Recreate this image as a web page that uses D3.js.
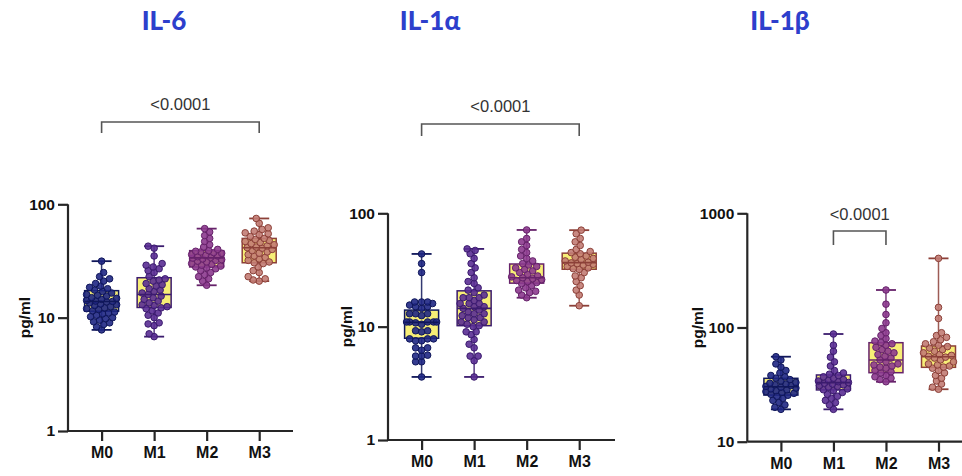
<!DOCTYPE html>
<html><head><meta charset="utf-8">
<script src="https://cdn.jsdelivr.net/npm/d3@7"></script>
<style>body{margin:0;background:#fff}svg{display:block}</style>
</head><body>
<svg id="c" width="962" height="476"></svg>
<script>
const categories = ["M0","M1","M2","M3"];
const titles = ["IL-6","IL-1\u03B1","IL-1\u03B2"];
const pLabel = "<0.0001";
const yTicks1 = [1,10,100];
const yTicks3 = [10,100,1000];

// IL-6 points
const il6_M0 = [31.5,25,23,22,21,20,19,18.5,18,17.5,17,16.5,16,15.8,15.5,15,14.8,14.5,14.2,14,13.9,13.8,13.5,13.2,13,12.8,12.5,12.2,12,11.8,11.5,11.2,11,10.8,10.5,10.2,10,9.8,9.5,9.2,9,8.7,8.3,7.8];
const il6_M1 = [42.7,41,35,30,29,28,27,26,25,23,22,21.5,21,20,19.5,19,18,17.5,17,16.5,16,15.5,15,14.5,14,13.5,13,12.8,12.5,12.2,12,11.5,11,10.5,10,9,8.8,8.5,7.2,6.8];
const il6_M2 = [61,57,53,50,47,44,42,40,39,38.5,38,37.5,37,36,35.5,35,34.5,34,33.5,33,32.5,32,31.5,31,30,29.5,29,28.5,28,27.5,27,26,25,24,23,22,21,19.3];
const il6_M3 = [75,68,62,60,58,56,55,54,52,50,49,48,47,46,45,44,43,42,41.5,41,40,39,38,37,36,35,34,33,32,31,30.5,30,28,26,25,23,22,21.5,21];
// IL-6 box stats
const il6Min = [7.8,6.8,19.3,21];
const il6Q1  = [11.4,12.3,28,30.5];
const il6Med = [13.9,16,33.7,41.4];
const il6Q3  = [17.3,22.5,39,50];
const il6Max = [31.5,42.7,61,75];

// IL-1a points
const il1a_M0 = [43.8,36,30,16.5,16.5,16.5,16,15.5,15,15,14.5,13,13,13,12.5,11,11,11,11,11,10.8,10.5,9.2,9.2,9,7.8,7.8,7.8,7.5,7.5,6.5,6.5,6.2,5.6,5.5,5.5,4.9,4.9,3.6];
const il1a_M1 = [48.5,47,44,40,36,33,30,27,25,24,22,21,20,19,18,18,18,17,16,16,16,15,15,14.5,14,13.5,13,13,12.5,12,12,11.5,11,11,10.5,10.2,10,9,9,8.5,7.7,7,6.5,5.5,5.5,5,3.6];
const il1a_M2 = [71.3,60,56,52,48,45,42,40,38,36,35,34,33,32,31,30,29,28,27.5,27,26.5,26,25.5,25,24.5,24,23,22,21,20.5,20,19,18];
const il1a_M3 = [71,66,60,56,52,48,46,45,44,42,41,40,39,38,37,36.5,36,35.5,35,34,33,32.5,32,30,28,27,25,23,21,19,15.3];
const il1aMin = [3.6,3.6,18,15.3];
const il1aQ1  = [7.9,10.2,24.2,32.1];
const il1aMed = [10.9,14.5,27,36.7];
const il1aQ3  = [14,20.7,35.7,44.5];
const il1aMax = [43.8,48.5,71.3,71];

// IL-1b points
const il1b_M0 = [55.5,52,48,45,42,40,38,37,36,35,34,33,32.5,32,31.5,31,30.5,30,29.5,29,28.5,28,27.5,27,26.5,26,25.5,25,24,23,22,21,20,19.2];
const il1b_M1 = [87.7,70,62,55,50,46,42,40,39,38,37,36,35,34.5,34,33.5,33,32.5,32,31.5,31,30.5,30,29,28.5,28,27,26,25,24,23,22,21,19.2];
const il1b_M2 = [213,160,130,110,98,90,85,80,76,74,72,70,67,64,62,60,58,56,54,52,50,48,47,46,45,44,42,41,40,38,37,36,35,33.5];
const il1b_M3 = [403,150,120,90,85,82,78,75,72,70,68,66,64,62,60,58,57,56,55,54,52,50,48,47,46,45,44,42,40,38,36,34,32,30,28.8];
const il1bMin = [19.2,19.2,33.5,28.8];
const il1bQ1  = [25.6,28.4,40.2,44.8];
const il1bMed = [30.3,32.9,52,55.5];
const il1bQ3  = [35.9,38.4,73.6,68.9];
const il1bMax = [55.5,87.7,213,403];

const pointFill   = ["#1f2784","#5a2e94","#8c3a8e","#c27c74"];
const pointStroke = ["#10175a","#3b1b6e","#66226a","#8c4038"];

const panels = [
  {title:titles[0], tx:164, x0:68, yTop:204.3, yBot:431, dom:[1,100], ticks:yTicks1, labX:25,
   pts:[il6_M0,il6_M1,il6_M2,il6_M3], mn:il6Min,q1:il6Q1,md:il6Med,q3:il6Q3,mx:il6Max,
   sig:{a:"M0",b:"M3",y:122,drop:11,ty:110}, axEnd:293},
  {title:titles[1], tx:430, x0:388, yTop:213.3, yBot:440, dom:[1,100], ticks:yTicks1, labX:347,
   pts:[il1a_M0,il1a_M1,il1a_M2,il1a_M3], mn:il1aMin,q1:il1aQ1,md:il1aMed,q3:il1aQ3,mx:il1aMax,
   sig:{a:"M0",b:"M3",y:124,drop:12,ty:112}, axEnd:615},
  {title:titles[2], tx:780, x0:747.3, yTop:213.3, yBot:441.7, dom:[10,1000], ticks:yTicks3, labX:698,
   pts:[il1b_M0,il1b_M1,il1b_M2,il1b_M3], mn:il1bMin,q1:il1bQ1,md:il1bMed,q3:il1bQ3,mx:il1bMax,
   sig:{a:"M1",b:"M2",y:231,drop:14,ty:220}, axEnd:975}
];

const svg = d3.select("#c");
const axisCol = "#262626";
const R = 3.3;
const MAXOFF = 15;
const MIND = 5.6;

function swarm(vals, y){
  const sorted = vals.slice().sort((a,b)=>a-b);
  const placed = [];
  const cands = [];
  for(let k=0;k<=2*MAXOFF;k++){ cands.push((k%2===0?1:-1)*Math.ceil(k/2)); }
  sorted.forEach(v=>{
    const yy = y(v);
    let best = 0, bestPen = Infinity;
    for(const cand of cands){
      let pen = 0;
      placed.forEach(p=>{const dx=p.dx-cand, dy=p.y-yy; const d=Math.sqrt(dx*dx+dy*dy); if(d<MIND) pen += (MIND-d);});
      if(pen===0){best=cand;bestPen=0;break;}
      if(pen<bestPen-1e-9){bestPen=pen;best=cand;}
    }
    placed.push({v, y:yy, dx:best});
  });
  return placed;
}

panels.forEach(P=>{
  const g = svg.append("g");
  const x = d3.scalePoint().domain(categories).range([P.x0+33.6, P.x0+191.2]);
  const y = d3.scaleLog().domain(P.dom).range([P.yBot, P.yTop]);
  const bw = 34;

  g.append("text").attr("x",P.tx).attr("y",30).attr("text-anchor","middle")
    .attr("font-family","Lato, 'Open Sans', sans-serif").attr("font-weight","900")
    .attr("font-size",26).attr("fill","#2d3fcc").text(P.title);

  const xa = x(P.sig.a), xb = x(P.sig.b);
  g.append("path").attr("d",`M${xa},${P.sig.y+P.sig.drop}V${P.sig.y}H${xb}V${P.sig.y+P.sig.drop}`)
    .attr("fill","none").attr("stroke","#555").attr("stroke-width",1.6);
  g.append("text").attr("x",(xa+xb)/2).attr("y",P.sig.ty).attr("text-anchor","middle")
    .attr("font-family","Liberation Sans, Arial, sans-serif").attr("font-size",16.5)
    .attr("fill","#333").text(pLabel);

  const yAxis = d3.axisLeft(y).tickValues(P.ticks).tickFormat(d3.format("d")).tickSize(10).tickPadding(3);
  const ya = g.append("g").attr("transform",`translate(${P.x0},0)`).call(yAxis);
  ya.select(".domain").attr("d",`M0,${P.yTop}V${P.yBot}`).attr("stroke",axisCol).attr("stroke-width",2.2);
  ya.selectAll(".tick line").attr("stroke",axisCol).attr("stroke-width",2.2);
  ya.selectAll(".tick text").attr("font-family","Liberation Sans, Arial, sans-serif")
    .attr("font-weight","bold").attr("font-size",15.5).attr("fill","#111");

  const xAxis = d3.axisBottom(x).tickSize(10).tickPadding(6);
  const xa2 = g.append("g").attr("transform",`translate(0,${P.yBot})`).call(xAxis);
  xa2.select(".domain").attr("d",`M${P.x0},0H${P.axEnd}`).attr("stroke",axisCol).attr("stroke-width",2.2);
  xa2.selectAll(".tick line").attr("stroke",axisCol).attr("stroke-width",2.2);
  xa2.selectAll(".tick text").attr("font-family","Liberation Sans, Arial, sans-serif")
    .attr("font-weight","bold").attr("font-size",16).attr("fill","#111");

  const yc = (P.yTop+P.yBot)/2;
  g.append("text").attr("transform",`translate(${P.labX},${yc}) rotate(-90)`)
    .attr("text-anchor","middle").attr("dy","0.35em")
    .attr("font-family","Liberation Sans, Arial, sans-serif").attr("font-weight","bold")
    .attr("font-size",15.5).attr("fill","#111").text("pg/ml");

  categories.forEach((c,i)=>{
    const cx = x(c);
    const col = pointStroke[i];
    g.append("line").attr("x1",cx).attr("x2",cx).attr("y1",y(P.mx[i])).attr("y2",y(P.mn[i]))
      .attr("stroke",col).attr("stroke-width",1.5).attr("opacity",0.85);
    [P.mx[i],P.mn[i]].forEach(v=>{
      g.append("line").attr("x1",cx-10).attr("x2",cx+10).attr("y1",y(v)).attr("y2",y(v))
        .attr("stroke",col).attr("stroke-width",1.8);
    });
    g.append("rect").attr("x",cx-bw/2).attr("width",bw).attr("y",y(P.q3[i]))
      .attr("height",y(P.q1[i])-y(P.q3[i])).attr("fill","#f7ee76")
      .attr("stroke",col).attr("stroke-width",1.5);
  });

  categories.forEach((c,i)=>{
    const cx = x(c);
    const sw = swarm(P.pts[i], y);
    g.selectAll(null).data(sw).enter().append("circle")
      .attr("cx",d=>cx+d.dx).attr("cy",d=>d.y).attr("r",R)
      .attr("fill",pointFill[i]).attr("stroke",pointStroke[i]).attr("stroke-width",1)
      .attr("fill-opacity",0.9);
  });

  categories.forEach((c,i)=>{
    const cx = x(c);
    g.append("line").attr("x1",cx-bw/2).attr("x2",cx+bw/2).attr("y1",y(P.md[i])).attr("y2",y(P.md[i]))
      .attr("stroke",pointStroke[i]).attr("stroke-width",1.6);
  });
});
</script>
</body></html>
